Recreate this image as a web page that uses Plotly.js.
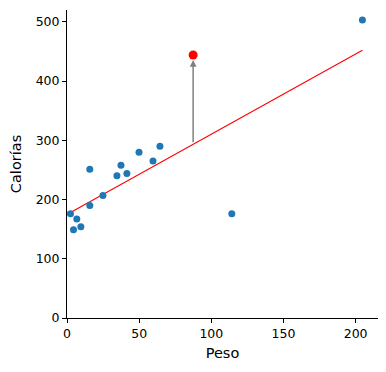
<!DOCTYPE html>
<html>
<head>
<meta charset="utf-8">
<script src="https://cdn.plot.ly/plotly-3.0.1.min.js"></script>
<style>html,body{margin:0;padding:0;background:#fff;}#chart{width:386px;height:372px;}</style>
</head>
<body>
<div id="chart"></div>
<script>
// Data
const peso = [2.4, 4.5, 6.8, 9.6, 15.8, 15.8, 24.9, 34.6, 37.4, 41.5, 49.9, 59.6, 64.4, 114.2, 204.7];
const calorias = [176, 149, 167, 154, 251, 190, 207, 240, 258, 244, 280, 265, 290, 176, 503];
const destacadoPeso = [87.4];
const destacadoCalorias = [444];
const ajustePeso = [2.4, 204.7];
const ajusteCalorias = [178, 452];
const prediccionDestacado = [294];
const xTicks = [0, 50, 100, 150, 200];
const yTicks = [0, 100, 200, 300, 400, 500];

const traces = [
  {x: ajustePeso, y: ajusteCalorias, mode: 'lines', type: 'scatter',
   line: {color: '#ff0000', width: 1.1}, hoverinfo: 'skip'},
  {x: peso, y: calorias, mode: 'markers', type: 'scatter',
   marker: {color: '#1f77b4', size: 7}},
  {x: destacadoPeso, y: destacadoCalorias, mode: 'markers', type: 'scatter',
   marker: {color: '#ff0000', size: 9}}
];

const font = {family: 'DejaVu Sans', color: '#000'};
const layout = {
  width: 386, height: 372,
  margin: {l: 67, r: 8, t: 10, b: 54},
  paper_bgcolor: '#fff', plot_bgcolor: '#fff',
  showlegend: false,
  font: font,
  xaxis: {
    range: [0, 215.5], tickvals: xTicks, ticktext: xTicks.map(String),
    showgrid: false, zeroline: false, showline: true, linecolor: '#000', linewidth: 1,
    ticks: 'outside', ticklen: 4, tickcolor: '#000', tickfont: {family: 'DejaVu Sans', size: 12.5, color: '#000'},
    title: {text: 'Peso', font: {family: 'DejaVu Sans', size: 14.5, color: '#000'}, standoff: 7}
  },
  yaxis: {
    range: [0, 520], tickvals: yTicks, ticktext: yTicks.map(String),
    showgrid: false, zeroline: false, showline: true, linecolor: '#000', linewidth: 1,
    ticks: 'outside', ticklen: 4, tickcolor: '#000', tickfont: {family: 'DejaVu Sans', size: 12.5, color: '#000'},
    title: {text: 'Calorías', font: {family: 'DejaVu Sans', size: 14.5, color: '#000'}, standoff: 10}
  },
  annotations: [{
    x: destacadoPeso[0], y: destacadoCalorias[0],
    ax: destacadoPeso[0], ay: prediccionDestacado[0],
    xref: 'x', yref: 'y', axref: 'x', ayref: 'y',
    text: '', showarrow: true, arrowhead: 2, arrowsize: 0.9, arrowwidth: 1.5,
    arrowcolor: '#808080', standoff: 5
  }]
};

Plotly.newPlot('chart', traces, layout, {staticPlot: true, displayModeBar: false});
</script>
</body>
</html>
